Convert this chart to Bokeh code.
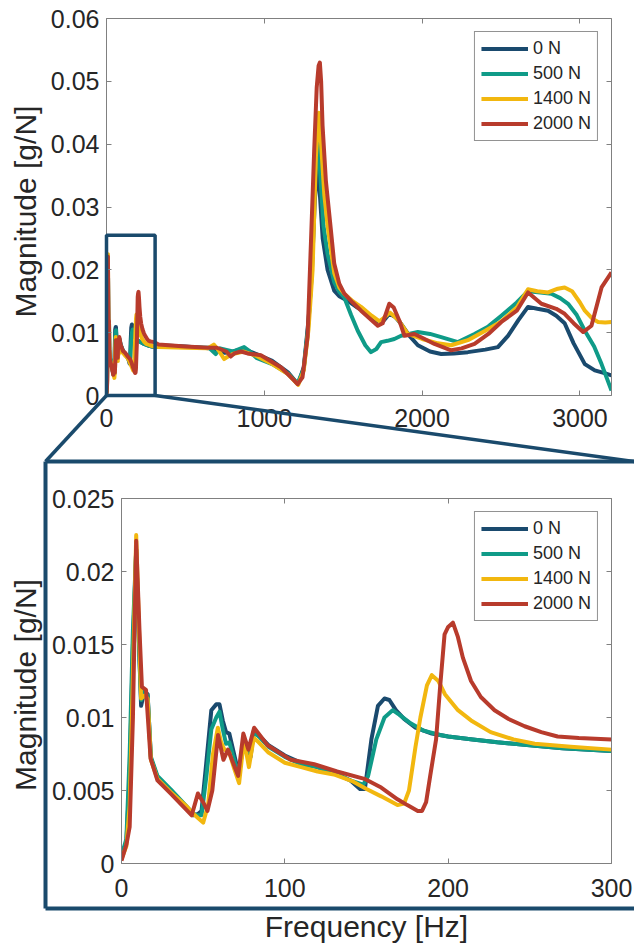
import math
from bokeh.plotting import figure
from bokeh.layouts import column
from bokeh.models import Range1d, FixedTicker, LinearAxis, CustomJSTickFormatter
from bokeh.core.properties import value
from bokeh.embed import file_html
from bokeh.resources import INLINE

# ---------------- data ----------------
SERIES = ["0 N", "500 N", "1400 N", "2000 N"]

f_0N = [0, 3, 5, 7, 9, 11, 12, 14, 16, 18, 22, 30, 40, 44, 47, 49, 52, 55, 58, 60,
        62, 64, 66, 71, 73, 75, 77, 79, 81, 84, 90, 100, 110, 120, 130, 140, 146, 149, 153, 157,
        161, 164, 168, 173, 180, 190, 200, 215, 230, 250, 270, 300,
        330, 500, 650, 700, 750, 800, 870, 950, 1050, 1150, 1200, 1215, 1250, 1280, 1300, 1320,
        1338, 1352, 1370, 1401, 1443, 1475, 1528, 1590, 1655, 1719, 1760, 1792, 1830, 1867, 1920,
        1973, 2050, 2121, 2200, 2290, 2400, 2480, 2544, 2610, 2671, 2730, 2798, 2850, 2903, 2960,
        3031, 3094, 3150, 3200]
m_0N = [0.0005, 0.0015, 0.006, 0.015, 0.0215, 0.014, 0.0108, 0.0118, 0.0116, 0.0072,
        0.0059, 0.0050, 0.0038, 0.0033, 0.0034, 0.0036, 0.0070, 0.0105, 0.0109, 0.0109,
        0.0098, 0.0090, 0.0089, 0.0065, 0.0070, 0.0085, 0.0080, 0.0073, 0.0091, 0.0088,
        0.0081, 0.0074, 0.0069, 0.0066, 0.0062, 0.0057, 0.0051, 0.0051, 0.0085, 0.0108,
        0.0113, 0.0112, 0.0105, 0.0099, 0.0093, 0.0089, 0.0087, 0.0085, 0.0083, 0.0081,
        0.0079, 0.0077,
        0.0080, 0.0078, 0.0075, 0.0073, 0.0068, 0.0070, 0.0074, 0.0066, 0.0055, 0.0037,
        0.0022, 0.0019, 0.0045, 0.0120, 0.0190, 0.0310, 0.0370, 0.0320, 0.0250, 0.0200,
        0.0167, 0.0158, 0.0151, 0.0140, 0.0130, 0.0118, 0.0120, 0.0130, 0.0125, 0.0114,
        0.0095, 0.0080, 0.0070, 0.0066, 0.0067, 0.0069, 0.0073, 0.0077, 0.0095, 0.0120,
        0.0141, 0.0138, 0.0135, 0.0127, 0.0115, 0.0083, 0.0050, 0.0040, 0.0036, 0.0032]

f_500N = [0, 3, 5, 7, 9, 11, 12, 14, 16, 18, 22, 30, 40, 44, 47, 49, 52, 55, 58, 60,
          62, 64, 66, 71, 73, 75, 77, 79, 81, 84, 90, 100, 110, 120, 130, 140, 148, 151, 156, 161,
          166, 170, 177, 185, 195, 200, 215, 230, 250, 270, 300,
          330, 500, 650, 692, 720, 800, 872, 900, 950, 1050, 1150, 1210, 1250, 1280, 1300, 1320,
          1340, 1355, 1375, 1401, 1443, 1475, 1507, 1550, 1592, 1640, 1676, 1710, 1740, 1780,
          1824, 1867, 1973, 2050, 2121, 2227, 2332, 2420, 2502, 2600, 2671, 2750, 2819, 2875,
          2925, 2980, 3031, 3090, 3137, 3200]
m_500N = [0.0005, 0.0017, 0.0075, 0.016, 0.0215, 0.014, 0.0112, 0.0118, 0.0115, 0.0073,
          0.0060, 0.0051, 0.0039, 0.0034, 0.0033, 0.0033, 0.0060, 0.0092, 0.0100, 0.0104,
          0.0092, 0.0082, 0.0083, 0.0063, 0.0070, 0.0084, 0.0079, 0.0075, 0.0090, 0.0087,
          0.0080, 0.0073, 0.0068, 0.0066, 0.0062, 0.0057, 0.0054, 0.0060, 0.0085, 0.0100,
          0.0105, 0.0102, 0.0096, 0.0091, 0.0088, 0.0087, 0.0085, 0.0083, 0.0081, 0.0079,
          0.0077,
          0.0077, 0.0077, 0.0076, 0.0066, 0.0075, 0.0070, 0.0077, 0.0072, 0.0060, 0.0050,
          0.0035, 0.0019, 0.0042, 0.0115, 0.0200, 0.0340, 0.0410, 0.0350, 0.0270, 0.0225,
          0.0180, 0.0165, 0.0156, 0.0128, 0.0103, 0.0080, 0.0069, 0.0074, 0.0085, 0.0087,
          0.0090, 0.0095, 0.0101, 0.0098, 0.0093, 0.0085, 0.0098, 0.0110, 0.0127, 0.0148,
          0.0166, 0.0164, 0.0162, 0.0155, 0.0146, 0.0128, 0.0103, 0.0078, 0.0050, 0.0008]

f_1400N = [0, 3, 5, 7, 9, 11, 12, 14, 16, 18, 22, 30, 40, 44, 47, 50, 53, 56, 59, 61,
           63, 66, 69, 72, 75, 78, 81, 84, 90, 100, 110, 120, 130, 142, 150, 159, 169, 173, 176, 180,
           183, 187, 190, 194, 198, 206, 214, 226, 240, 253, 275, 300,
           330, 500, 640, 680, 710, 745, 770, 800, 870, 950, 1050, 1150, 1215, 1250, 1280, 1306,
           1327, 1345, 1360, 1380, 1401, 1443, 1475, 1507, 1560, 1613, 1680, 1730, 1760, 1795,
           1850, 1909, 2000, 2100, 2184, 2290, 2400, 2502, 2600, 2671, 2730, 2798, 2860, 2903,
           2950, 3000, 3031, 3080, 3115, 3160, 3200]
m_1400N = [0.0003, 0.0012, 0.004, 0.013, 0.0225, 0.015, 0.0113, 0.0115, 0.0113, 0.0071,
           0.0058, 0.0049, 0.0039, 0.0034, 0.0031, 0.0028, 0.0040, 0.0075, 0.0093, 0.0083,
           0.0078, 0.0076, 0.0065, 0.0055, 0.0085, 0.0066, 0.0086, 0.0083, 0.0076, 0.0069,
           0.0066, 0.0063, 0.0061, 0.0056, 0.0051, 0.0046, 0.0040, 0.0041, 0.0050, 0.0080,
           0.0100, 0.0122, 0.0129, 0.0125, 0.0116, 0.0105, 0.0098, 0.0090, 0.0085, 0.0082,
           0.0080, 0.0078,
           0.0077, 0.0076, 0.0075, 0.0081, 0.0072, 0.0058, 0.0062, 0.0066, 0.0070, 0.0063,
           0.0050, 0.0034, 0.0017, 0.0040, 0.0105, 0.0200, 0.0380, 0.0450, 0.0400, 0.0320,
           0.0270, 0.0195, 0.0172, 0.0162, 0.0150, 0.0141, 0.0127, 0.0118, 0.0124, 0.0132,
           0.0120, 0.0098, 0.0090, 0.0083, 0.0080, 0.0088, 0.0103, 0.0118, 0.0140, 0.0169,
           0.0166, 0.0164, 0.0170, 0.0172, 0.0166, 0.0148, 0.0135, 0.0122, 0.0117, 0.0116,
           0.0117]

f_2000N = [0, 3, 5, 7, 9, 11, 12.5, 15, 17.8, 22, 30, 43, 46.8, 50, 52.6, 55.6, 59.1, 62.4, 65.2, 71.4,
           74.6, 77.7, 81.2, 89.4, 103.7, 118, 132, 148.7, 159, 169, 175, 181.4, 184, 186.5, 189,
           192.6, 195, 197.8, 200, 202.9, 206, 209, 214, 220, 228.4, 237, 246.8, 257, 267, 280, 300,
           330, 500, 650, 700, 760, 787, 810, 851, 893, 978, 1105, 1189, 1211, 1242, 1274, 1295,
           1316, 1332, 1344, 1352, 1360, 1369, 1390, 1422, 1443, 1475, 1507, 1560, 1613, 1719,
           1750, 1792, 1820, 1856, 1888, 1951, 2000, 2078, 2184, 2250, 2332, 2420, 2502, 2600,
           2671, 2756, 2850, 2903, 2960, 3020, 3073, 3137, 3200]
m_2000N = [0.0002, 0.0013, 0.0025, 0.010, 0.0221, 0.016, 0.0121, 0.0119, 0.0072, 0.0057,
           0.0048, 0.0033, 0.0048, 0.0042, 0.0036, 0.0050, 0.0088, 0.0071, 0.0078, 0.0060,
           0.0089, 0.0078, 0.0093, 0.0081, 0.0071, 0.0068, 0.0063, 0.0058, 0.0052, 0.0044,
           0.0040, 0.0036, 0.0036, 0.0042, 0.0060, 0.0085, 0.0120, 0.0157, 0.0162, 0.0165,
           0.0155, 0.0141, 0.0125, 0.0114, 0.0105, 0.0099, 0.0094, 0.0090, 0.0087, 0.0086,
           0.0085,
           0.0081, 0.0078, 0.0076, 0.0076, 0.0070, 0.0062, 0.0067, 0.0070, 0.0067, 0.0064,
           0.0045, 0.0024, 0.0018, 0.0029, 0.0093, 0.0240, 0.0390, 0.0490, 0.0525, 0.0530,
           0.0500, 0.0430, 0.0342, 0.0263, 0.0210, 0.0178, 0.0162, 0.0148, 0.0135, 0.0111,
           0.0115, 0.0146, 0.0140, 0.0119, 0.0095, 0.0098, 0.0092, 0.0082, 0.0072, 0.0075,
           0.0082, 0.0098, 0.0117, 0.0135, 0.0164, 0.0146, 0.0138, 0.0130, 0.0115, 0.0101,
           0.0111, 0.0172, 0.0196]

FREQS = [f_0N, f_500N, f_1400N, f_2000N]
MAGS = [m_0N, m_500N, m_1400N, m_2000N]

TOP_XR = (0, 3200)
TOP_YR = (0, 0.06)
TOP_XTICKS = [0, 1000, 2000, 3000]
TOP_YTICKS = [0, 0.01, 0.02, 0.03, 0.04, 0.05, 0.06]
BOT_XR = (0, 300)
BOT_YR = (0, 0.025)
BOT_XTICKS = [0, 100, 200, 300]
BOT_YTICKS = [0, 0.005, 0.01, 0.015, 0.02, 0.025]
ZOOM_X = (0, 308)       # zoom rectangle drawn on the top plot
ZOOM_Y = (0, 0.0255)

X_LABEL = "Frequency [Hz]"
Y_LABEL = "Magnitude [g/N]"

# ---------------- style / layout ----------------
COLORS = ["#1a4a6e", "#0f9b88", "#f2b70f", "#b83b2c"]
BOXC = "#1a4a6c"
FONT = "Liberation Sans"
TXT = "#262626"
AXC = "#808080"

W = 634
TOP_H = 466
BOT_H = 479
# pixel geometry of the picture
T_L, T_R, T_T, T_B = 106, 611, 18, 395
B_C = TOP_H                      # top of the lower canvas
B_L, B_R, B_T, B_B = 121, 611, 498, 864
BOX_L, BOX_T, BOX_B, BOX_R = 45, 461, 909, 640
YLAB_X = 25
TOP_YLAB_Y, BOT_YLAB_Y = 211, 685

def top_fx(px):
    return TOP_XR[0] + (px - T_L) / (T_R - T_L) * (TOP_XR[1] - TOP_XR[0])

def top_fy(py):
    return TOP_YR[0] + (T_B - py) / (T_B - T_T) * (TOP_YR[1] - TOP_YR[0])

def bot_fx(px):
    return BOT_XR[0] + (px - B_L) / (B_R - B_L) * (BOT_XR[1] - BOT_XR[0])

def bot_fy(py):
    return BOT_YR[0] + (B_B - py) / (B_B - B_T) * (BOT_YR[1] - BOT_YR[0])

fmt = CustomJSTickFormatter(code="return String(Math.round(tick*1000000)/1000000)")

def style_axis(ax, ticks, labels=True, standoff=7):
    ax.ticker = FixedTicker(ticks=ticks)
    ax.formatter = fmt
    ax.axis_line_color = AXC
    ax.axis_line_width = 1
    ax.major_tick_line_color = AXC
    ax.major_tick_line_width = 1
    ax.major_tick_in = 5
    ax.major_tick_out = 0
    ax.minor_tick_line_color = None
    ax.major_label_text_font = FONT
    if labels:
        ax.major_label_text_color = TXT
        ax.major_label_text_font_size = "25px"
        ax.major_label_standoff = standoff
    else:
        ax.major_label_text_color = None
        ax.major_label_text_font_size = "1px"
        ax.major_label_standoff = 0
    ax.axis_label_text_font = FONT
    ax.axis_label_text_font_size = "30px"
    ax.axis_label_text_font_style = "normal"
    ax.axis_label_text_color = TXT


def make_plot(h, xr, yr, xticks, yticks, borders, xstand, ylab_xy, xlabel=None):
    p = figure(width=W, height=h, x_range=Range1d(*xr), y_range=Range1d(*yr),
               output_backend="svg", toolbar_location=None,
               min_border_left=borders[0], min_border_right=borders[1],
               min_border_top=borders[2], min_border_bottom=borders[3])
    p.frame_align = False
    p.xgrid.grid_line_color = None
    p.ygrid.grid_line_color = None
    p.outline_line_color = None
    p.background_fill_color = "white"
    p.border_fill_color = "white"
    style_axis(p.xaxis[0], xticks, standoff=xstand)
    style_axis(p.yaxis[0], yticks, standoff=7)
    if xlabel:
        p.xaxis[0].axis_label = xlabel
        p.xaxis[0].axis_label_standoff = 10
    top_ax = LinearAxis()
    style_axis(top_ax, xticks, labels=False)
    p.add_layout(top_ax, "above")
    right_ax = LinearAxis()
    style_axis(right_ax, yticks, labels=False)
    p.add_layout(right_ax, "right")
    # y-axis title (drawn as an unclipped text glyph left of the axis)
    p.text(x=[ylab_xy[0]], y=[ylab_xy[1]], text=[Y_LABEL], angle=math.pi / 2,
           text_align="center", text_baseline="middle", text_font=value(FONT),
           text_font_size=value("30px"), text_color=TXT, level="overlay")
    for name, f, m, c in zip(SERIES, FREQS, MAGS, COLORS):
        p.line(f, m, line_color=c, line_width=4, line_join="round", legend_label=name)
    lg = p.legend[0]
    lg.location = "top_right"
    lg.margin = 13
    lg.padding = 6
    lg.spacing = 4
    lg.glyph_width = 47
    lg.glyph_height = 21
    lg.label_height = 21
    lg.label_standoff = 5
    lg.label_text_font = FONT
    lg.label_text_font_size = "18px"
    lg.label_text_font_style = "normal"
    lg.label_text_color = TXT
    lg.border_line_color = "#262626"
    lg.border_line_width = 1
    lg.background_fill_color = "white"
    lg.background_fill_alpha = 1
    return p

p1 = make_plot(TOP_H, TOP_XR, TOP_YR, TOP_XTICKS, TOP_YTICKS,
               (T_L, W - T_R, T_T, TOP_H - T_B), 13,
               (top_fx(YLAB_X), top_fy(TOP_YLAB_Y)))
p2 = make_plot(BOT_H, BOT_XR, BOT_YR, BOT_XTICKS, BOT_YTICKS,
               (B_L, W - B_R, B_T - B_C, B_C + BOT_H - B_B), 15,
               (bot_fx(YLAB_X), bot_fy(BOT_YLAB_Y)), xlabel=X_LABEL)

# zoom rectangle, connectors and top edge of the zoom box (upper canvas)
p1.quad(left=[ZOOM_X[0]], right=[ZOOM_X[1]], bottom=[ZOOM_Y[0]], top=[ZOOM_Y[1]],
        fill_color=None, line_color=BOXC, line_width=3.5, level="overlay")
bl_x, bl_y = top_fx(BOX_L), top_fy(BOX_T)
p1.segment(x0=[ZOOM_X[0], ZOOM_X[1]], y0=[ZOOM_Y[0], ZOOM_Y[0]],
           x1=[bl_x, top_fx(BOX_R)], y1=[bl_y, top_fy(BOX_T + 1)],
           line_color=BOXC, line_width=3.5, level="overlay")
p1.segment(x0=[bl_x, bl_x], y0=[bl_y, bl_y], x1=[top_fx(BOX_R), bl_x], y1=[bl_y, top_fy(BOX_T + 40)],
           line_color=BOXC, line_width=4, level="overlay")

# sides and bottom of the zoom box (lower canvas)
bx_l, bx_r = bot_fx(BOX_L), bot_fx(BOX_R)
by_t, by_b = bot_fy(BOX_T), bot_fy(BOX_B)
p2.segment(x0=[bx_l, bx_l, bx_r], y0=[by_t, by_b, by_t],
           x1=[bx_l, bx_r, bx_r], y1=[by_b, by_b, by_b],
           line_color=BOXC, line_width=4, level="overlay")

layout = column(p1, p2)
open("out.html", "w").write(file_html(layout, INLINE, title="Magnitude vs frequency"))
